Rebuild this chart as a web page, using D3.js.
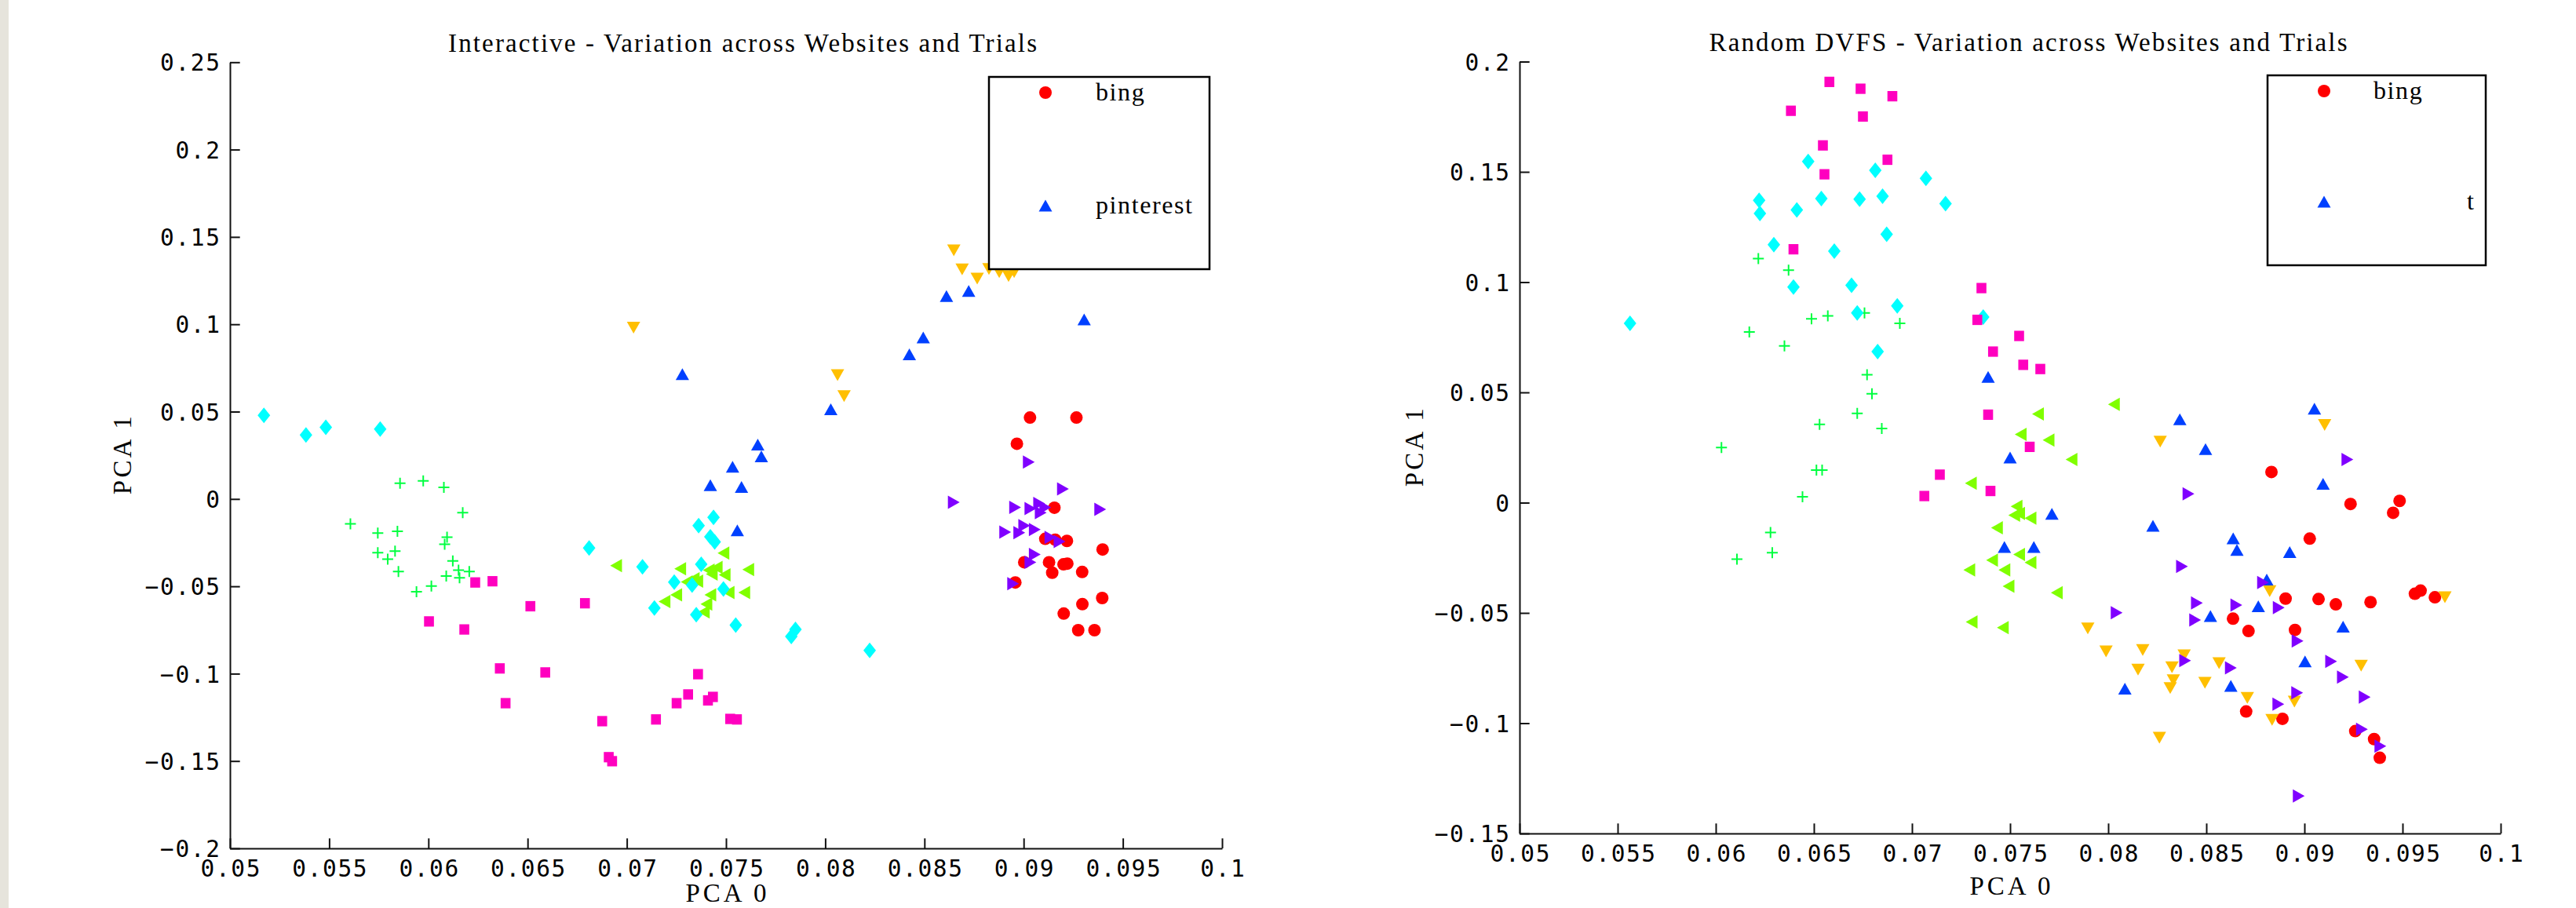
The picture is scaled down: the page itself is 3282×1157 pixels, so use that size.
<!DOCTYPE html>
<meta charset="utf-8">
<style>
  body { margin: 0; background: #fff; }
  .axis .domain, .axis .tick line { stroke: #111; stroke-width: 2; }
  .axis text { font-family: "DejaVu Sans Mono", monospace; font-size: 29.5px; letter-spacing: 1.6px; fill: #000; }
  .ttl, .lab, .leg text { font-family: "Liberation Serif", serif; fill: #000; }
</style>
<svg width="3282" height="1157"></svg>
<script src="https://d3js.org/d3.v7.min.js"></script>
<script>
// series names (only the first and the pinterest entry appear in the legend)
var seriesNames = ["bing", "site2", "site3", "site4", "site5", "pinterest", "site7", "site8"];

var xTickValues = [0.05, 0.055, 0.06, 0.065, 0.07, 0.075, 0.08, 0.085, 0.09, 0.095, 0.1];
var xTickLabels = ["0.05", "0.055", "0.06", "0.065", "0.07", "0.075", "0.08", "0.085", "0.09", "0.095", "0.1"];
var yTickValuesInteractive = [-0.2, -0.15, -0.1, -0.05, 0, 0.05, 0.1, 0.15, 0.2, 0.25];
var yTickLabelsInteractive = ["\u22120.2", "\u22120.15", "\u22120.1", "\u22120.05", "0", "0.05", "0.1", "0.15", "0.2", "0.25"];
var yTickValuesRandom = [-0.15, -0.1, -0.05, 0, 0.05, 0.1, 0.15, 0.2];
var yTickLabelsRandom = ["\u22120.15", "\u22120.1", "\u22120.05", "0", "0.05", "0.1", "0.15", "0.2"];

// ---- Interactive panel: [PCA 0, PCA 1]
var interactiveBing = [[0.09032,0.0466],[0.09266,0.0466],[0.08966,0.0316],[0.09155,-0.0050],[0.09109,-0.0228],[0.09159,-0.0233],[0.09218,-0.0240],[0.09398,-0.0289],[0.09003,-0.0362],[0.09128,-0.0362],[0.09201,-0.0374],[0.09220,-0.0370],[0.09144,-0.0422],[0.09295,-0.0418],[0.08958,-0.0478],[0.09396,-0.0567],[0.09296,-0.0602],[0.09202,-0.0656],[0.09275,-0.0751],[0.09357,-0.0751]];
var interactiveSite2 = [[0.08648,0.1423],[0.08690,0.1314],[0.08766,0.1262],[0.08825,0.1316],[0.08877,0.1298],[0.08924,0.1276],[0.08952,0.1298],[0.07034,0.0981],[0.08062,0.0709],[0.08095,0.0589]];
var interactiveSite3 = [[0.06946,-0.0382],[0.07269,-0.0400],[0.07487,-0.0310],[0.07453,-0.0392],[0.07413,-0.0407],[0.07493,-0.0434],[0.07428,-0.0430],[0.07612,-0.0404],[0.07337,-0.0457],[0.07302,-0.0475],[0.07249,-0.0549],[0.07190,-0.0587],[0.07421,-0.0549],[0.07513,-0.0535],[0.07592,-0.0535],[0.07401,-0.0602],[0.07388,-0.0647],[0.07355,-0.0470]];
var interactiveSite4 = [[0.05857,0.0090],[0.05974,0.0104],[0.06078,0.0067],[0.06173,-0.0078],[0.05607,-0.0142],[0.05745,-0.0195],[0.05844,-0.0185],[0.06094,-0.0219],[0.06082,-0.0259],[0.05745,-0.0308],[0.05795,-0.0345],[0.05832,-0.0298],[0.05849,-0.0415],[0.06123,-0.0355],[0.06152,-0.0408],[0.06206,-0.0415],[0.06157,-0.0451],[0.06090,-0.0441],[0.06015,-0.0498],[0.05940,-0.0531]];
var interactiveSite5 = [[0.05171,0.0479],[0.05383,0.0366],[0.05483,0.0410],[0.05757,0.0400],[0.06810,-0.0280],[0.07079,-0.0388],[0.07437,-0.0105],[0.07362,-0.0153],[0.07421,-0.0216],[0.07443,-0.0246],[0.07375,-0.0374],[0.07239,-0.0476],[0.07329,-0.0493],[0.07487,-0.0515],[0.07139,-0.0624],[0.07350,-0.0662],[0.07549,-0.0722],[0.07829,-0.0787],[0.07850,-0.0747],[0.08224,-0.0867]];
var interactivePinterest = [[0.07660,0.0311],[0.07678,0.0244],[0.07533,0.0184],[0.07421,0.0079],[0.07578,0.0069],[0.07557,-0.0180],[0.07280,0.0715],[0.08028,0.0513],[0.08424,0.0828],[0.08494,0.0925],[0.08611,0.1161],[0.08723,0.1191],[0.09305,0.1028]];
var interactiveSite7 = [[0.09026,0.0211],[0.09198,0.0057],[0.08957,-0.0048],[0.09034,-0.0055],[0.09078,-0.0026],[0.09109,-0.0048],[0.09086,-0.0078],[0.09386,-0.0059],[0.08907,-0.0190],[0.08978,-0.0193],[0.09003,-0.0153],[0.09056,-0.0175],[0.09135,-0.0220],[0.09181,-0.0243],[0.09056,-0.0318],[0.09034,-0.0362],[0.08947,-0.0485],[0.08648,-0.0019]];
var interactiveSite8 = [[0.06236,-0.0478],[0.06323,-0.0471],[0.06003,-0.0701],[0.06181,-0.0747],[0.06514,-0.0614],[0.06789,-0.0597],[0.06360,-0.0970],[0.06589,-0.0993],[0.06389,-0.1169],[0.06876,-0.1272],[0.06909,-0.1478],[0.06926,-0.1501],[0.07147,-0.1262],[0.07251,-0.1169],[0.07309,-0.1119],[0.07359,-0.1003],[0.07409,-0.1153],[0.07434,-0.1133],[0.07521,-0.1259],[0.07555,-0.1262]];

// ---- Random DVFS panel
var randomBing = [[0.08832,0.0139],[0.09235,-0.0006],[0.09485,0.0008],[0.09452,-0.0046],[0.09027,-0.0163],[0.08904,-0.0435],[0.09072,-0.0437],[0.09160,-0.0461],[0.09337,-0.0451],[0.09563,-0.0413],[0.09592,-0.0399],[0.09665,-0.0429],[0.08636,-0.0526],[0.08715,-0.0582],[0.08952,-0.0577],[0.08703,-0.0947],[0.08888,-0.0980],[0.09259,-0.1036],[0.09355,-0.1072],[0.09384,-0.1157]];
var randomSite2 = [[0.09103,0.0352],[0.08265,0.0277],[0.08823,-0.0401],[0.09716,-0.0429],[0.07989,-0.0674],[0.08176,-0.0668],[0.08152,-0.0757],[0.08325,-0.0746],[0.08387,-0.0692],[0.08332,-0.0805],[0.08316,-0.0841],[0.08565,-0.0728],[0.08493,-0.0817],[0.09289,-0.0739],[0.08709,-0.0885],[0.08949,-0.0902],[0.08835,-0.0985],[0.08261,-0.1066],[0.07896,-0.0570]];
var randomSite3 = [[0.08029,0.0446],[0.07642,0.0402],[0.07554,0.0310],[0.07696,0.0284],[0.07813,0.0196],[0.07300,0.0088],[0.07533,-0.0017],[0.07521,-0.0057],[0.07546,-0.0049],[0.07604,-0.0070],[0.07433,-0.0114],[0.07408,-0.0261],[0.07546,-0.0235],[0.07604,-0.0271],[0.07471,-0.0305],[0.07292,-0.0305],[0.07492,-0.0379],[0.07738,-0.0408],[0.07304,-0.0541],[0.07463,-0.0567]];
var randomSite4 = [[0.06217,0.1107],[0.06371,0.1054],[0.06171,0.0774],[0.06350,0.0711],[0.06488,0.0834],[0.06571,0.0847],[0.06758,0.0860],[0.06938,0.0813],[0.06771,0.0580],[0.06796,0.0494],[0.06721,0.0405],[0.06846,0.0336],[0.06529,0.0355],[0.06513,0.0148],[0.06542,0.0148],[0.06442,0.0027],[0.06029,0.0250],[0.06279,-0.0135],[0.06288,-0.0227],[0.06108,-0.0256]];
var randomSite5 = [[0.05563,0.0813],[0.06221,0.1371],[0.06225,0.1311],[0.06296,0.1170],[0.06413,0.1327],[0.06471,0.1547],[0.06538,0.1379],[0.06396,0.0978],[0.06604,0.1141],[0.06692,0.0986],[0.06721,0.0860],[0.06733,0.1376],[0.06813,0.1507],[0.06850,0.1390],[0.06871,0.1217],[0.06825,0.0685],[0.06925,0.0892],[0.07071,0.1471],[0.07171,0.1356],[0.07363,0.0842]];
var randomPinterest = [[0.09051,0.0426],[0.08365,0.0378],[0.08496,0.0243],[0.09095,0.0085],[0.08228,-0.0105],[0.08637,-0.0162],[0.08656,-0.0214],[0.08925,-0.0224],[0.08808,-0.0349],[0.08765,-0.0470],[0.08521,-0.0514],[0.09197,-0.0562],[0.09003,-0.0720],[0.08625,-0.0831],[0.08085,-0.0843],[0.07388,0.0570],[0.07500,0.0205],[0.07471,-0.0201],[0.07621,-0.0201],[0.07713,-0.0051]];
var randomSite7 = [[0.09219,0.0196],[0.08409,0.0040],[0.08376,-0.0289],[0.08789,-0.0362],[0.08043,-0.0499],[0.08452,-0.0455],[0.08653,-0.0464],[0.08869,-0.0476],[0.08443,-0.0532],[0.08965,-0.0627],[0.08392,-0.0716],[0.08625,-0.0749],[0.09136,-0.0720],[0.09196,-0.0791],[0.09307,-0.0882],[0.08963,-0.0862],[0.08867,-0.0914],[0.09293,-0.1028],[0.09387,-0.1104],[0.08971,-0.1330]];
var randomSite8 = [[0.06579,0.1908],[0.06738,0.1877],[0.06900,0.1843],[0.06383,0.1777],[0.06750,0.1751],[0.06546,0.1620],[0.06554,0.1489],[0.06875,0.1555],[0.06396,0.1149],[0.07354,0.0973],[0.07333,0.0829],[0.07546,0.0756],[0.07413,0.0685],[0.07567,0.0625],[0.07654,0.0606],[0.07388,0.0399],[0.07600,0.0253],[0.07142,0.0127],[0.07400,0.0053],[0.07063,0.0030]];

// marker shapes as custom d3 symbol types
function tri(dir, w, h) {
  return {draw: function(c) {
    if (dir === "up") { c.moveTo(0, -h / 2); c.lineTo(w / 2, h / 2); c.lineTo(-w / 2, h / 2); }
    if (dir === "down") { c.moveTo(0, h / 2); c.lineTo(w / 2, -h / 2); c.lineTo(-w / 2, -h / 2); }
    if (dir === "right") { c.moveTo(w / 2, 0); c.lineTo(-w / 2, -h / 2); c.lineTo(-w / 2, h / 2); }
    if (dir === "left") { c.moveTo(-w / 2, 0); c.lineTo(w / 2, -h / 2); c.lineTo(w / 2, h / 2); }
    c.closePath();
  }};
}
var circleType = {draw: function(c) { c.moveTo(8, 0); c.arc(0, 0, 8, 0, 2 * Math.PI); }};
var diamondType = {draw: function(c) { c.moveTo(0, -10); c.lineTo(8, 0); c.lineTo(0, 10); c.lineTo(-8, 0); c.closePath(); }};
var squareType = {draw: function(c) { c.rect(-6.3, -6.6, 12.6, 13.2); }};
var plusType = {draw: function(c) { c.moveTo(-7, 0); c.lineTo(7, 0); c.moveTo(0, -7); c.lineTo(0, 7); }};

var styles = [
  {color: "#ff0000", type: circleType},
  {color: "#ffbf00", type: tri("down", 17, 15)},
  {color: "#80ff00", type: tri("left", 15, 17)},
  {color: "#00ff40", type: plusType, stroke: true},
  {color: "#00ffff", type: diamondType},
  {color: "#0040ff", type: tri("up", 17, 15)},
  {color: "#8000ff", type: tri("right", 15, 17)},
  {color: "#ff00bf", type: squareType}
];

var svg = d3.select("svg");
svg.append("rect").attr("width", 3282).attr("height", 1157).attr("fill", "#fff");
svg.append("rect").attr("width", 11).attr("height", 1157).attr("fill", "#e6e4dc");

function drawPanel(p) {
  var x = d3.scaleLinear().domain([0.05, 0.1]).range(p.xRange);
  var y = d3.scaleLinear().domain(p.yDomain).range(p.yRange);
  var g = svg.append("g");

  g.append("g")
    .attr("class", "axis")
    .attr("transform", "translate(0," + p.yRange[0] + ")")
    .call(d3.axisBottom(x).tickValues(xTickValues)
      .tickFormat(function(d, i) { return xTickLabels[i]; })
      .tickSizeInner(-12.7).tickSizeOuter(0).tickPadding(15))
    .call(function(a) { a.attr("font-family", null).attr("font-size", null); })
    .selectAll("text").attr("dx", "0.8px");

  g.append("g")
    .attr("class", "axis")
    .attr("transform", "translate(" + p.xRange[0] + ",0)")
    .call(d3.axisLeft(y).tickValues(p.yTicks)
      .tickFormat(function(d, i) { return p.yLabels[i]; })
      .tickSizeInner(-12.7).tickSizeOuter(0).tickPadding(11.5))
    .call(function(a) { a.attr("font-family", null).attr("font-size", null); })
    .selectAll("text").attr("dy", "0.36em");

  p.series.forEach(function(data, i) {
    var st = styles[i];
    g.append("g").selectAll("path").data(data).join("path")
      .attr("transform", function(d) { return "translate(" + x(d[0]) + "," + y(d[1]) + ")"; })
      .attr("d", d3.symbol().type(st.type))
      .attr("fill", st.stroke ? "none" : st.color)
      .attr("stroke", st.stroke ? st.color : "none")
      .attr("stroke-width", 2);
  });

  g.append("text").attr("class", "ttl")
    .attr("x", p.titleX).attr("y", p.titleY)
    .attr("text-anchor", "middle").attr("font-size", 33)
    .attr("textLength", p.titleW).attr("lengthAdjust", "spacing")
    .text(p.title);

  var xm = (p.xRange[0] + p.xRange[1]) / 2;
  g.append("text").attr("class", "lab")
    .attr("x", xm).attr("y", p.xLabelY)
    .attr("text-anchor", "middle").attr("font-size", 33)
    .attr("textLength", 103).attr("lengthAdjust", "spacing")
    .text("PCA 0");
  var ym = (p.yRange[0] + p.yRange[1]) / 2;
  g.append("text").attr("class", "lab")
    .attr("transform", "translate(" + p.yLabelX + "," + ym + ") rotate(-90)")
    .attr("text-anchor", "middle").attr("font-size", 33)
    .attr("textLength", 100).attr("lengthAdjust", "spacing")
    .text("PCA 1");

  var lg = g.append("g").attr("class", "leg");
  var b = p.legend;
  lg.append("rect").attr("x", b.x).attr("y", b.y).attr("width", b.w).attr("height", b.h)
    .attr("fill", "#fff").attr("stroke", "#000").attr("stroke-width", 2.5);
  b.items.forEach(function(it) {
    var st = styles[it.series];
    lg.append("path")
      .attr("transform", "translate(" + b.markerX + "," + it.y + ")")
      .attr("d", d3.symbol().type(st.type))
      .attr("fill", st.color);
    lg.append("text").attr("x", it.textX).attr("y", it.y + 9.5)
      .attr("font-size", 32).attr("letter-spacing", "1.6px")
      .text(it.label);
  });
}

drawPanel({
  xRange: [293, 1557], yDomain: [-0.2, 0.25], yRange: [1081, 79.3],
  yTicks: yTickValuesInteractive, yLabels: yTickLabelsInteractive,
  series: [interactiveBing, interactiveSite2, interactiveSite3, interactiveSite4, interactiveSite5, interactivePinterest, interactiveSite7, interactiveSite8],
  title: "Interactive - Variation across Websites and Trials", titleX: 946, titleY: 66, titleW: 750,
  xLabelY: 1149, yLabelX: 167,
  legend: {x: 1260, y: 98, w: 281, h: 245, markerX: 1332, items: [
    {series: 0, label: seriesNames[0], y: 118, textX: 1396},
    {series: 5, label: seriesNames[5], y: 262, textX: 1396}
  ]}
});

drawPanel({
  xRange: [1936, 3186], yDomain: [-0.15, 0.2], yRange: [1062, 78.5],
  yTicks: yTickValuesRandom, yLabels: yTickLabelsRandom,
  series: [randomBing, randomSite2, randomSite3, randomSite4, randomSite5, randomPinterest, randomSite7, randomSite8],
  title: "Random DVFS - Variation across Websites and Trials", titleX: 2584, titleY: 65, titleW: 813,
  xLabelY: 1140, yLabelX: 1813,
  legend: {x: 2889, y: 96, w: 278, h: 242, markerX: 2961, items: [
    {series: 0, label: seriesNames[0], y: 116, textX: 3024},
    {series: 5, label: "t", y: 257, textX: 3143}
  ]}
});
</script>
